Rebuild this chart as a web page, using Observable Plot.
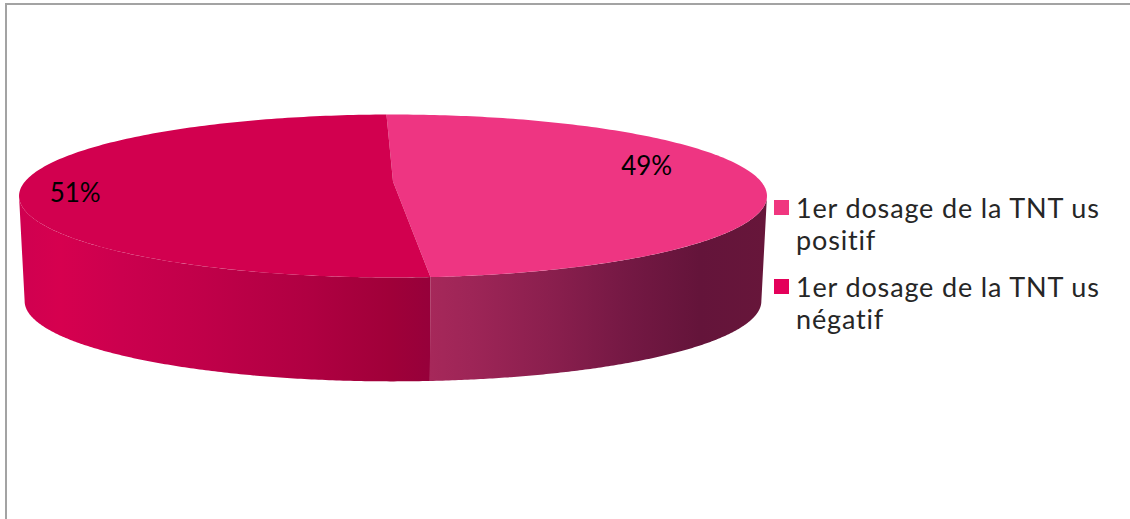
<!DOCTYPE html>
<html lang="fr">
<head>
<meta charset="utf-8">
<script src="https://cdn.jsdelivr.net/npm/d3@7"></script>
<script src="https://cdn.jsdelivr.net/npm/@observablehq/plot@0.6"></script>
<style>
  html, body { margin: 0; padding: 0; background: #fff; overflow: hidden; }
  #page { position: relative; width: 1130px; height: 519px; overflow: hidden; }
  #page::before { content: ""; position: absolute; left: 5px; top: 3px; right: 0; bottom: 0;
    border-left: 2px solid #a3a3a3; border-top: 2px solid #a3a3a3; }
  #chart { position: absolute; left: 0; top: 0; }
  #chart svg { background: transparent; }
  .entry { position: absolute; left: 774px; width: 350px; font: 400 27px/32px Lato, sans-serif;
    color: #262626; padding-left: 22px; box-sizing: border-box; letter-spacing: 0.85px; }
  .swatch { position: absolute; left: 0; top: 8px; width: 15px; height: 15px; }
</style>
</head>
<body>
<div id="page"><div id="chart"></div></div>
<script>
const categories = ["1er dosage de la TNT us positif", "1er dosage de la TNT us négatif"];
const legendLines = [["1er dosage de la TNT us", "positif"], ["1er dosage de la TNT us", "négatif"]];
const shares = [49, 51];
const topColors = ["#ee3582", "#d2004f"];
const swatchColors = ["#f0367f", "#e4005a"];

// Tilted disc: a circle seen through a perspective divide, with a second ring for the floor.
const tilt = 0.178;
const firstSliceAngle = -1.2;
const floorScale = 0.985;
const floorDrop = 1.335;
const rad = Math.PI / 180;

function ring(deg, scale = 1, drop = 0) {
  const u = Math.sin(deg * rad), v = -Math.cos(deg * rad);
  const s = scale / (1 - tilt * v);
  return {x: u * s, y: v * s + drop};
}
const arc = (from, to, scale, drop) =>
  d3.range(0, 181).map((i) => ring(from + (to - from) * i / 180, scale, drop));

// Slice boundaries in degrees, clockwise from the top of the disc.
const total = d3.sum(shares);
const cuts = [firstSliceAngle, firstSliceAngle + 360 * shares[0] / total, firstSliceAngle + 360];
const faces = shares.map((d, i) => [{x: 0, y: 0}, ...arc(cuts[i], cuts[i + 1])]);

// Silhouette of the disc: the projected circle is widest where v equals the tilt.
const rightEdge = Math.acos(-tilt) / rad;
const leftEdge = 360 - rightEdge;
const wall = (from, to) => [...arc(from, to), ...arc(to, from, floorScale, floorDrop)];
const rightWall = wall(rightEdge, cuts[1]);
const leftWall = wall(cuts[1], leftEdge);

const rightWallStops = [[0, "#a6285a"], [0.12, "#9e2557"], [0.35, "#8b1f4e"], [0.6, "#731843"], [0.8, "#64143a"], [1, "#67163a"]];
const leftWallStops = [[0, "#cf0050"], [0.1, "#d6004f"], [0.25, "#cb004e"], [0.45, "#c00049"], [0.7, "#b00042"], [0.9, "#a00039"], [1, "#96003a"]];

function gradients() {
  const defs = d3.create("svg:defs");
  for (const [id, stops] of [["wallRight", rightWallStops], ["wallLeft", leftWallStops]]) {
    const g = defs.append("linearGradient").attr("id", id);
    for (const [offset, color] of stops) g.append("stop").attr("offset", offset).attr("stop-color", color);
  }
  return defs.node();
}

const polygon = (points, fill) => Plot.line(points, {x: "x", y: "y", fill, stroke: "none"});

// Percent labels sit inside their slices, pulled off the slice's mid-angle.
const labelTurn = [-12.6, -7];
const labelReach = [0.75, 0.85];
const labels = shares.map((d, i) => {
  const mid = (cuts[i] + cuts[i + 1]) / 2 + labelTurn[i];
  const p = ring(mid);
  return {x: p.x * labelReach[i], y: p.y * labelReach[i], text: `${d}%`};
});

const plot = Plot.plot({
  width: 1130,
  height: 519,
  margin: 0,
  x: {axis: null, domain: [-1, 1], range: [392.5 - 368, 392.5 + 368]},
  y: {axis: null, domain: [-1, 1], range: [181 - 78.9, 181 + 78.9]},
  style: {background: "transparent"},
  marks: [
    gradients,
    polygon(rightWall, "url(#wallRight)"),
    polygon(leftWall, "url(#wallLeft)"),
    polygon(faces[0], topColors[0]),
    polygon(faces[1], topColors[1]),
    Plot.text(labels, {
      x: "x", y: "y", text: "text",
      fill: "#000", fontSize: 26, fontWeight: 400, fontFamily: "Lato, sans-serif"
    })
  ]
});
document.getElementById("chart").append(plot);

// Legend to the right of the disc, wrapped on two lines per entry.
const page = d3.select("#page");
const entryTops = [192, 271];
categories.forEach((name, i) => {
  const entry = page.append("div").attr("class", "entry").attr("title", name).style("top", `${entryTops[i]}px`);
  entry.append("span").attr("class", "swatch").style("background", swatchColors[i]);
  legendLines[i].forEach((line) => entry.append("div").text(line));
});
</script>
</body>
</html>
